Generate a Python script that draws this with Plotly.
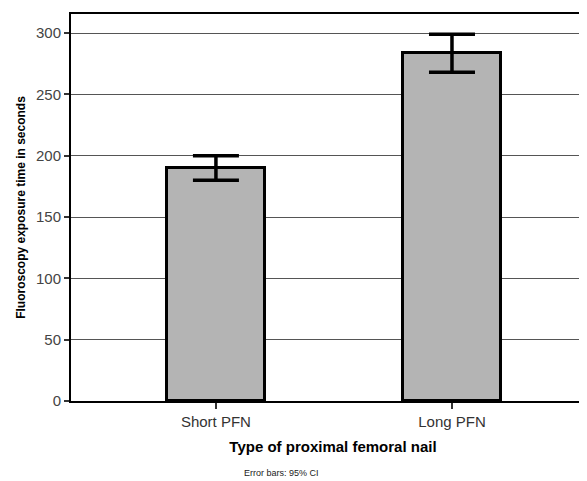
import plotly.graph_objects as go

categories = ["Short PFN", "Long PFN"]
means = [190, 284]
ci_upper = [200, 299]
ci_lower = [180, 268]

err_plus = [u - m for u, m in zip(ci_upper, means)]
err_minus = [m - l for m, l in zip(means, ci_lower)]

FONT = "Liberation Sans, Arial, sans-serif"

fig = go.Figure()
fig.add_trace(go.Bar(
    x=[0, 1], y=means, width=0.415,
    marker=dict(color="#b4b4b4", line=dict(color="black", width=3)),
    error_y=dict(type="data", symmetric=False, array=err_plus, arrayminus=err_minus,
                 color="black", thickness=3.5, width=23),
    hoverinfo="skip",
))

# page has ~8px body margin; plot area runs off the right edge like the reference
fig.update_layout(
    width=587, height=473,
    margin=dict(l=63, r=0, t=6, b=80),
    plot_bgcolor="white", paper_bgcolor="white",
    showlegend=False,
    bargap=0,
    xaxis=dict(
        range=[-0.614, 1.572 + 8 / 236], tickmode="array", tickvals=[0, 1], ticktext=categories,
        showline=True, linecolor="black", linewidth=2, mirror=True,
        ticks="outside", ticklen=6, tickcolor="#333", tickwidth=1.5,
        showgrid=False, zeroline=False,
        tickfont=dict(family=FONT, size=15, color="#333"),
        title=dict(text="<b>Type of proximal femoral nail</b>", standoff=12,
                   font=dict(family=FONT, size=15, color="black")),
    ),
    yaxis=dict(
        range=[0, 315.5], tickvals=[0, 50, 100, 150, 200, 250, 300],
        showline=True, linecolor="black", linewidth=2,
        ticks="outside", ticklen=5, tickcolor="#333", tickwidth=1.5,
        showgrid=True, gridcolor="#555555", gridwidth=1.2, zeroline=False,
        tickfont=dict(family=FONT, size=15, color="#444"),
        title=dict(text="<b>Fluoroscopy exposure time in seconds</b>", standoff=8,
                   font=dict(family=FONT, size=12, color="black")),
    ),
)

fig.add_annotation(
    text="Error bars: 95% CI", xref="paper", yref="paper",
    x=(281 - 71) / 524, y=-(473 - 401) / 387, showarrow=False,
    font=dict(family="Liberation Sans Narrow, Liberation Sans, Arial, sans-serif", size=9, color="#222"),
    xanchor="center", yanchor="middle",
)

fig.write_html("out.html")
